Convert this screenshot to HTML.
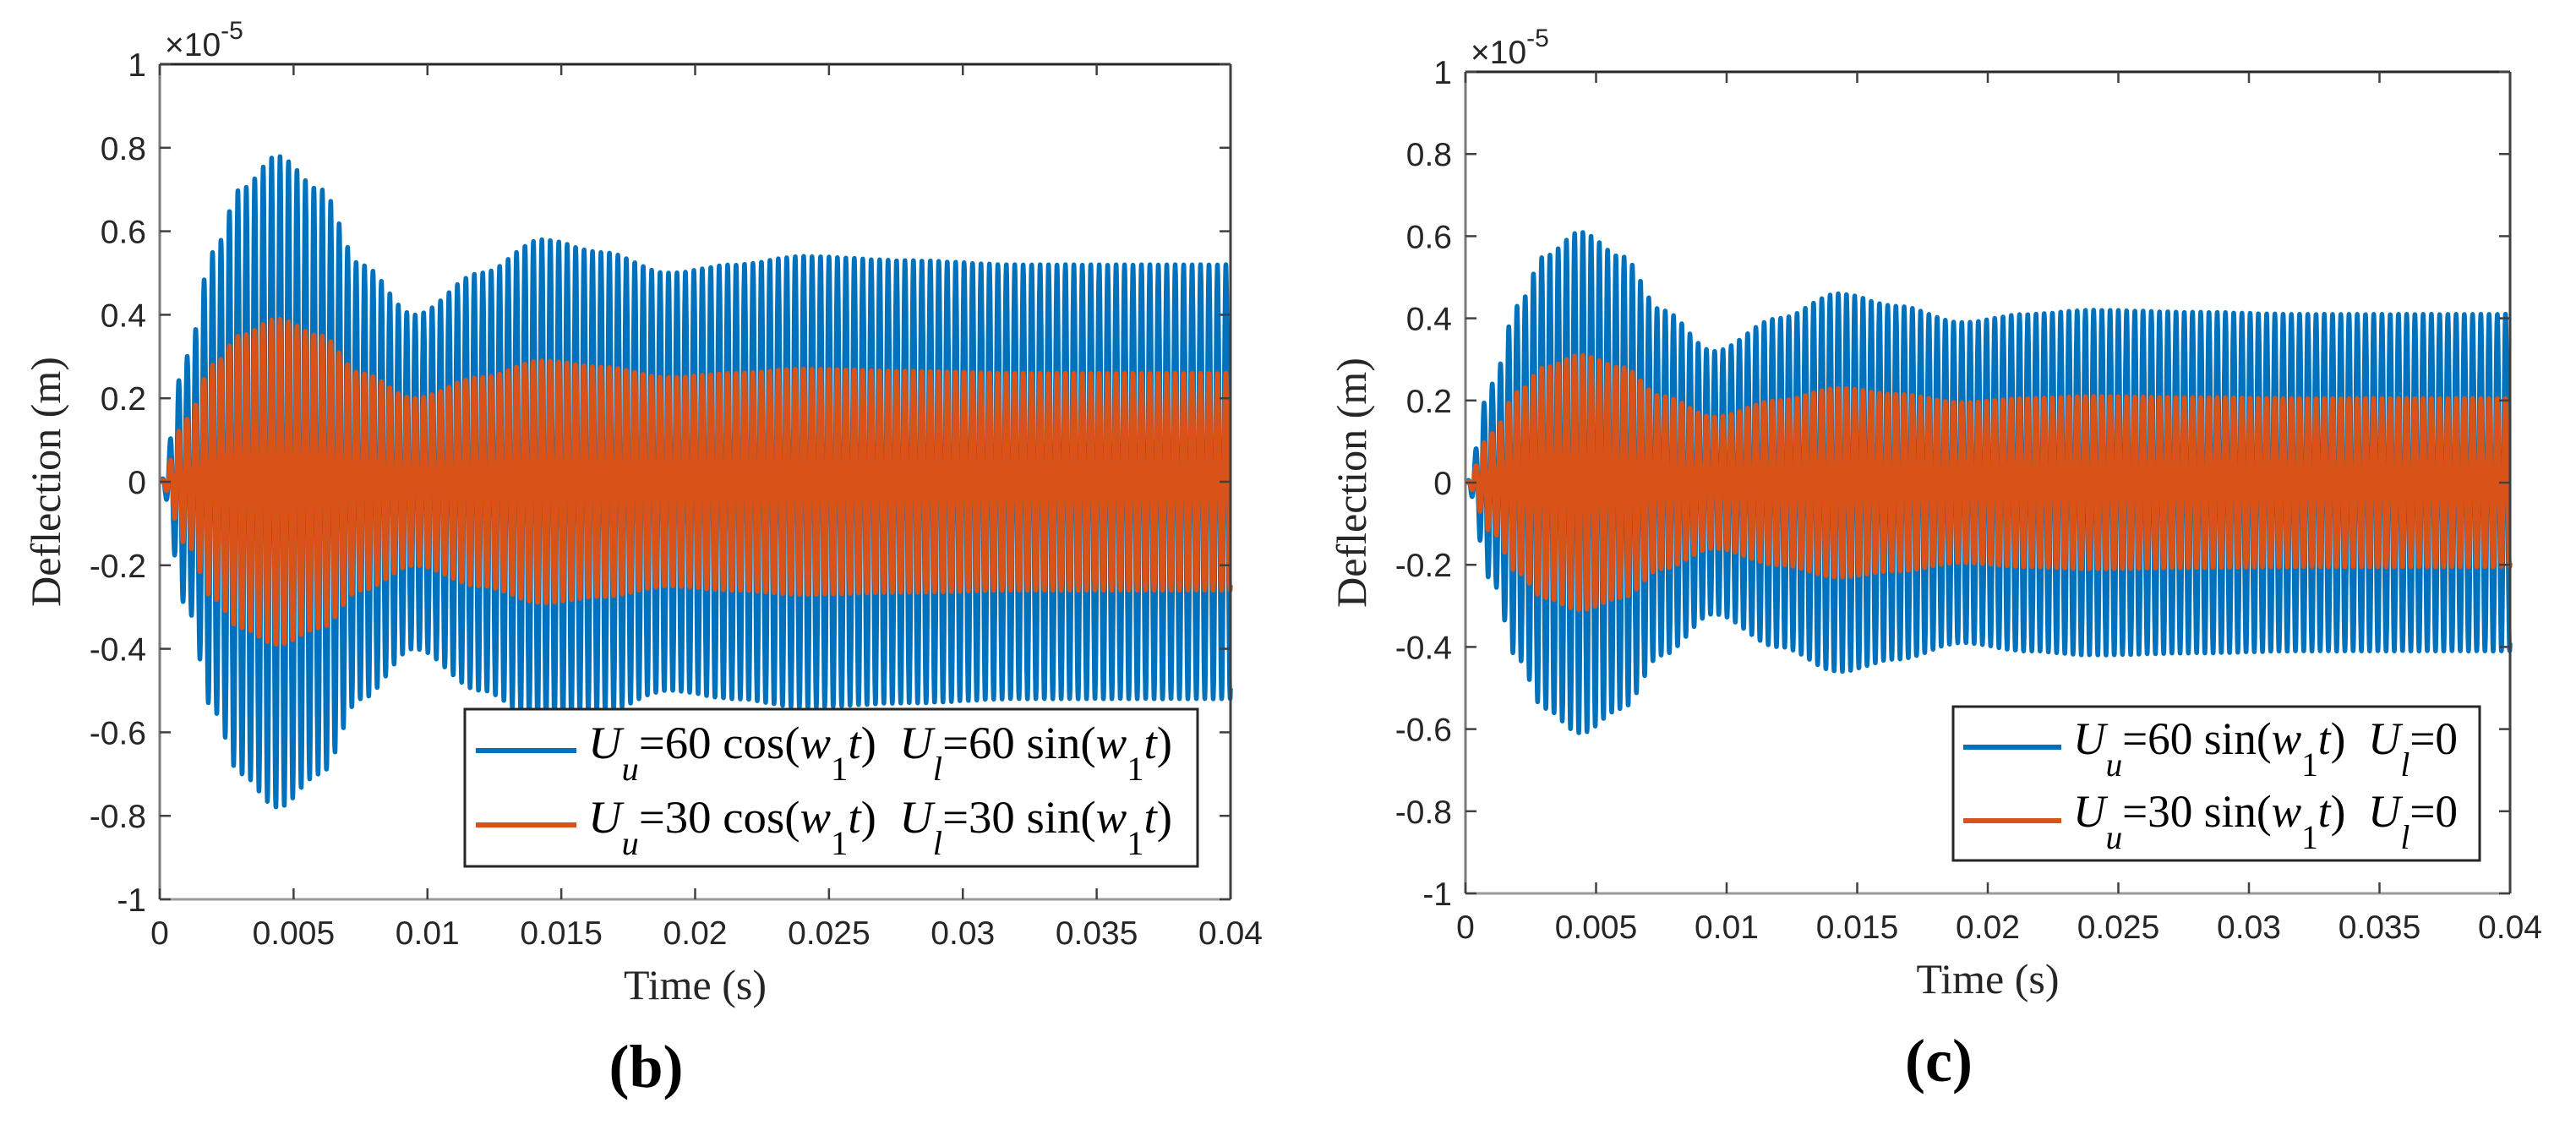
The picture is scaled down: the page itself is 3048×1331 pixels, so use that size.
<!DOCTYPE html>
<html><head><meta charset="utf-8">
<style>
html,body{margin:0;padding:0;background:#fff;}
svg{display:block;}
.tick{font-family:"Liberation Sans",sans-serif;font-size:39px;fill:#262626;}
.lab{font-family:"Liberation Serif",serif;font-size:50px;fill:#262626;}
.leg{font-family:"Liberation Serif",serif;font-size:54px;fill:#000;}
</style></head>
<body>
<svg id="chart" width="3048" height="1331" viewBox="0 0 3048 1331" xmlns="http://www.w3.org/2000/svg">
<rect x="0" y="0" width="3048" height="1331" fill="#fff"/>
<g id="pb"></g>
<g id="pc"></g>
</svg>
<script>
// ---- data ----
const xTicks = [0, 0.005, 0.01, 0.015, 0.02, 0.025, 0.03, 0.035, 0.04];
const xTickLabels = ["0","0.005","0.01","0.015","0.02","0.025","0.03","0.035","0.04"];
const yTicks = [-1,-0.8,-0.6,-0.4,-0.2,0,0.2,0.4,0.6,0.8,1];
const yTickLabels = ["-1","-0.8","-0.6","-0.4","-0.2","0","0.2","0.4","0.6","0.8","1"];
const carrierHz = 3170;
const envTimes = [0, 0.001, 0.002, 0.003, 0.0044, 0.006, 0.0075, 0.0095, 0.012, 0.0143, 0.0165, 0.019, 0.0215, 0.024, 0.028, 0.032, 0.04];
const envB60 = [0, 0.30, 0.55, 0.70, 0.78, 0.70, 0.52, 0.40, 0.50, 0.58, 0.55, 0.50, 0.52, 0.54, 0.53, 0.52, 0.52];
const envB30 = [0, 0.15, 0.28, 0.35, 0.39, 0.35, 0.26, 0.20, 0.25, 0.29, 0.275, 0.25, 0.26, 0.27, 0.265, 0.26, 0.26];
const envC60 = [0, 0.24, 0.43, 0.55, 0.61, 0.55, 0.42, 0.32, 0.40, 0.46, 0.43, 0.39, 0.41, 0.42, 0.415, 0.41, 0.41];
const envC30 = [0, 0.12, 0.22, 0.28, 0.31, 0.28, 0.21, 0.16, 0.20, 0.23, 0.215, 0.195, 0.205, 0.21, 0.207, 0.205, 0.205];

const NS = "http://www.w3.org/2000/svg";
function mk(tag, attrs, parent){const e=document.createElementNS(NS,tag);for(const k in attrs)e.setAttribute(k,attrs[k]);parent.appendChild(e);return e;}
function envAt(env,t){
  for(let i=0;i<envTimes.length-1;i++){
    if(t<=envTimes[i+1]){const f=(t-envTimes[i])/(envTimes[i+1]-envTimes[i]);const s=(1-Math.cos(Math.PI*f))/2;return env[i]+(env[i+1]-env[i])*s;}
  }
  return env[env.length-1];
}

function panel(g, P, series, legendRows, L){
  const X = v => P.x0 + (v-0)/(0.04)*(P.x1-P.x0);
  const Y = v => P.y1 - (v+1)/2*(P.y1-P.y0);
  series.forEach((s,si)=>{
    let d="";
    const n=6000;
    for(let i=0;i<=n;i++){
      const t=0.04*i/n;
      const v=envAt(s.env,t)*Math.sin(2*Math.PI*carrierHz*t + s.phase);
      d+=(i?"L":"M")+X(t).toFixed(1)+" "+Y(v).toFixed(1);
    }
    const p=mk("path",{d:d,fill:"none",stroke:s.color,"stroke-width":5.5,"stroke-linejoin":"round"},g);
    
    
  });
  const ax=mk("g",{},g);
  
  
  mk("line",{x1:P.x0,y1:P.y0,x2:P.x1,y2:P.y0,stroke:"#262626","stroke-width":3},ax);
  mk("line",{x1:P.x1,y1:P.y0,x2:P.x1,y2:P.y1,stroke:"#404040","stroke-width":3},ax);
  mk("line",{x1:P.x0,y1:P.y0,x2:P.x0,y2:P.y1,stroke:"#7a7a7a","stroke-width":3},ax);
  mk("line",{x1:P.x0,y1:P.y1,x2:P.x1,y2:P.y1,stroke:"#9a9a9a","stroke-width":3},ax);
  xTicks.forEach((v,i)=>{
    const x=X(v);
    mk("line",{x1:x,y1:P.y1,x2:x,y2:P.y1-13,stroke:"#404040","stroke-width":2.5},ax);
    mk("line",{x1:x,y1:P.y0,x2:x,y2:P.y0+13,stroke:"#404040","stroke-width":2.5},ax);
    const t=mk("text",{x:x,y:P.y1+53,"text-anchor":"middle",class:"tick"},g);
    t.textContent=xTickLabels[i];
    
    
  });
  yTicks.forEach((v,i)=>{
    const y=Y(v);
    mk("line",{x1:P.x0,y1:y,x2:P.x0+13,y2:y,stroke:"#404040","stroke-width":2.5},ax);
    mk("line",{x1:P.x1,y1:y,x2:P.x1-13,y2:y,stroke:"#404040","stroke-width":2.5},ax);
    const t=mk("text",{x:P.x0-16,y:y+14,"text-anchor":"end",class:"tick"},g);
    t.textContent=yTickLabels[i];
    
    
  });
  const ex=mk("text",{x:P.x0+6,y:P.y0-10,class:"tick"},g);
  
  
  ex.innerHTML='×10<tspan dy="-20" font-size="30">-5</tspan>';
  const yl=mk("text",{x:0,y:0,"text-anchor":"middle",class:"lab",transform:`translate(${P.x0-118},${(P.y0+P.y1)/2}) rotate(-90)`},g);
  yl.textContent="Deflection (m)";
  
  
  const xl=mk("text",{x:(P.x0+P.x1)/2,y:P.y1+118,"text-anchor":"middle",class:"lab"},g);
  xl.textContent="Time (s)";
  
  
  const pl=mk("text",{x:(P.x0+P.x1)/2-58,y:P.y1+222,"text-anchor":"middle","font-family":"Liberation Serif, serif","font-size":"72","font-weight":"bold",fill:"#000"},g);
  pl.textContent=P.tag;
  
  
  const lg=mk("g",{},g);
  
  
  mk("rect",{x:L.x0,y:L.y0,width:L.x1-L.x0,height:L.y1-L.y0,fill:"#fff",stroke:"#262626","stroke-width":3},lg);
  legendRows.forEach((r,i)=>{
    const e=mk("g",{},lg);
    
    
    mk("line",{x1:L.lx0,y1:r.ly,x2:L.lx1,y2:r.ly,stroke:r.color,"stroke-width":6},e);
    const t=mk("text",{x:L.tx,y:r.by,class:"leg",textLength:L.tw,lengthAdjust:"spacingAndGlyphs"},e);
    t.innerHTML=r.html;
  });
}

const NB="\u00a0";
function row(a,fn,b){
  let h=`<tspan font-style="italic">U</tspan><tspan dy="26" font-size="40" font-style="italic">u</tspan><tspan dy="-26">=${a} ${fn}(</tspan><tspan font-style="italic">w</tspan><tspan dy="26" font-size="40">1</tspan><tspan dy="-26" font-style="italic">t</tspan><tspan>)${NB}${NB}</tspan><tspan font-style="italic">U</tspan><tspan dy="26" font-size="40" font-style="italic">l</tspan>`;
  if(b===null) h+=`<tspan dy="-26">=0</tspan>`;
  else h+=`<tspan dy="-26">=${b} sin(</tspan><tspan font-style="italic">w</tspan><tspan dy="26" font-size="40">1</tspan><tspan dy="-26" font-style="italic">t</tspan><tspan>)</tspan>`;
  return h;
}

panel(document.getElementById("pb"),
  {x0:189,x1:1456,y0:76,y1:1064,tag:"(b)"},
  [{env:envB60,color:"#0072BD",phase:0,name:"series-u60-cos"},{env:envB30,color:"#D95319",phase:0,name:"series-u30-cos"}],
  [{color:"#0072BD",ly:888,by:897,html:row(60,"cos",60)},{color:"#D95319",ly:976,by:985,html:row(30,"cos",30)}],
  {x0:550,x1:1417,y0:839,y1:1025,lx0:563,lx1:682,tx:696,tw:691});

panel(document.getElementById("pc"),
  {x0:1734,x1:2970,y0:85,y1:1057,tag:"(c)"},
  [{env:envC60,color:"#0072BD",phase:0,name:"series-u60-sin"},{env:envC30,color:"#D95319",phase:0,name:"series-u30-sin"}],
  [{color:"#0072BD",ly:884,by:892,html:row(60,"sin",null)},{color:"#D95319",ly:971,by:978,html:row(30,"sin",null)}],
  {x0:2311,x1:2934,y0:836,y1:1018,lx0:2323,lx1:2439,tx:2453,tw:455});
</script>
</body></html>
